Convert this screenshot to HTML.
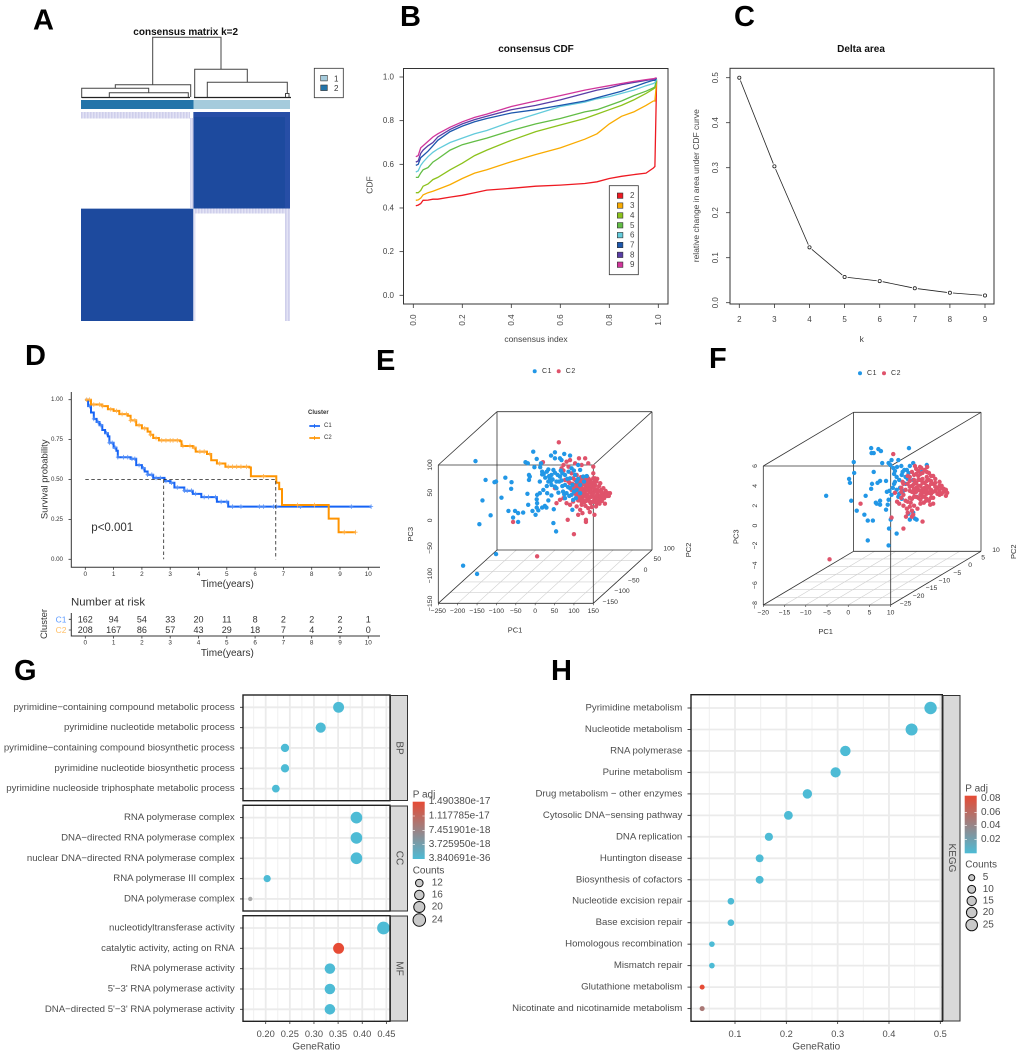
<!DOCTYPE html>
<html lang="en">
<head>
<meta charset="utf-8">
<title>Consensus clustering figure</title>
<style>
html,body{margin:0;padding:0;background:#fff;}
#figure{display:block;width:1020px;height:1055px;font-family:"Liberation Sans",sans-serif;}
#figure text{dominant-baseline:central;}
.letter{font-size:29px;font-weight:bold;fill:#000;dominant-baseline:alphabetic !important;}
.ttl{font-size:10px;font-weight:bold;fill:#111;text-anchor:middle;}
.lab{font-size:8.5px;fill:#444;text-anchor:middle;}
.gg{font-size:10px;fill:#4d4d4d;}
</style>
</head>
<body>
<svg id="figure" width="1020" height="1055" viewBox="0 0 1020 1055">
<defs>
<linearGradient id="padj-grad" x1="0" y1="0" x2="0" y2="1"><stop offset="0" stop-color="#E64B35"/><stop offset="1" stop-color="#4DBBD5"/></linearGradient>
<pattern id="fringe" width="3" height="3" patternUnits="userSpaceOnUse"><rect width="3" height="3" fill="#e2e2f4"/><rect width="1.5" height="3" fill="#cfcfeb"/></pattern>
<clipPath id="clip-g1"><rect x="243" y="695" width="147" height="105.7"/></clipPath>
<clipPath id="clip-g2"><rect x="243" y="805.3" width="147" height="105.7"/></clipPath>
<clipPath id="clip-g3"><rect x="243" y="915.7" width="147" height="105.6"/></clipPath>
<clipPath id="clip-h"><rect x="691" y="694.7" width="251.3" height="326.6"/></clipPath>
</defs>

<text class="letter" x="33" y="29.5">A</text>
<text class="letter" x="400" y="26">B</text>
<text class="letter" x="734" y="26">C</text>
<text class="letter" x="25" y="365">D</text>
<text class="letter" x="376" y="370">E</text>
<text class="letter" x="709" y="368">F</text>
<text class="letter" x="14" y="680">G</text>
<text class="letter" x="551" y="680">H</text>

<!-- Panel A -->
<g id="panel-a">
<text class="ttl" x="185.7" y="32.7">consensus matrix k=2</text>
<path fill="none" stroke="#444" stroke-width="1" d="M152.7 84.7V37.3H221V69.3M194.7 98V69.3H247.3V82.3M207.3 97V82.3H287.3V93.5M115.3 88.3V84.7H190.7V97M81.7 98V88.3H148.7V92.7M109.3 97V92.7H188.3V97M285.5 97V93.5H289V97"/>
<path fill="none" stroke="#222" stroke-width="1.3" d="M81.7 97.5H190M194 97.5H291"/>
<rect x="81" y="100" width="112.5" height="9" fill="#2374a9"/>
<rect x="193.5" y="100" width="96.5" height="9" fill="#a5cbdc"/>
<rect x="314.3" y="68.3" width="29" height="29.4" fill="#fff" stroke="#333" stroke-width="0.8"/>
<rect x="320.7" y="75.3" width="6.6" height="5.6" fill="#a5cbdc" stroke="#333" stroke-width="0.6"/>
<rect x="320.7" y="85" width="6.6" height="5.6" fill="#2374a9" stroke="#333" stroke-width="0.6"/>
<text x="334" y="79" font-size="8" fill="#333">1</text>
<text x="334" y="88.5" font-size="8" fill="#333">2</text>
<g id="heatmap"></g>
</g>

<!-- Panel B -->
<g id="panel-b">
<text class="ttl" x="536" y="49.3">consensus CDF</text>
<rect x="403.5" y="68.5" width="264.5" height="235.5" fill="#fff" stroke="#333" stroke-width="1"/>
<text class="lab" x="536" y="339" font-size="8.5">consensus index</text>
<text class="lab" x="369.7" y="185" transform="rotate(-90 369.7 185)">CDF</text>
<g id="cdf-axes"></g>
<g id="cdf-lines"></g>
<rect x="609.3" y="185.7" width="29" height="89" fill="#fff" stroke="#333" stroke-width="0.8"/>
<g id="cdf-legend"></g>
</g>

<!-- Panel C -->
<g id="panel-c">
<text class="ttl" x="861" y="49.7">Delta area</text>
<rect x="730" y="68.3" width="264" height="235.7" fill="#fff" stroke="#333" stroke-width="1"/>
<text class="lab" x="861.7" y="339">k</text>
<text class="lab" x="696" y="185.7" transform="rotate(-90 696 185.7)">relative change in area under CDF curve</text>
<g id="delta-axes"></g>
<g id="delta-line"></g>
</g>

<!-- Panel D -->
<g id="panel-d">
<path d="M71.3 392V567.3H380" fill="none" stroke="#333" stroke-width="1"/>
<text x="227.3" y="584.7" font-size="10" fill="#333" text-anchor="middle">Time(years)</text>
<text x="45" y="479.3" font-size="9.5" fill="#333" text-anchor="middle" transform="rotate(-90 45 479.3)">Survival probability</text>
<text x="91.3" y="528" font-size="11.5" fill="#333">p&lt;0.001</text>
<g id="surv-axes"></g>
<g id="surv-lines"></g>
<text x="308" y="413" font-size="6" font-weight="bold" fill="#333">Cluster</text>
<line x1="309.3" x2="320" y1="426" y2="426" stroke="#1563F5" stroke-width="1.7"/>
<line x1="309.3" x2="320" y1="438" y2="438" stroke="#FF9400" stroke-width="1.7"/>
<line x1="314.6" x2="314.6" y1="424" y2="428" stroke="#1563F5" stroke-width="0.8"/>
<line x1="314.6" x2="314.6" y1="436" y2="440" stroke="#FF9400" stroke-width="0.8"/>
<text x="324" y="426" font-size="6" fill="#333">C1</text>
<text x="324" y="438" font-size="6" fill="#333">C2</text>
<text x="71" y="602.7" font-size="11.4" fill="#333">Number at risk</text>
<path d="M71.3 613V636H380" fill="none" stroke="#333" stroke-width="1"/>
<path d="M68.8 619.3H71.3M68.8 630H71.3" stroke="#333" stroke-width="0.8"/>
<text x="66.5" y="619.3" font-size="8.5" fill="#5d9bff" text-anchor="end">C1</text>
<text x="66.5" y="630" font-size="8.5" fill="#ffbf66" text-anchor="end">C2</text>
<text x="44.3" y="624" font-size="9.5" fill="#333" text-anchor="middle" transform="rotate(-90 44.3 624)">Cluster</text>
<text x="227.3" y="653.7" font-size="10" fill="#333" text-anchor="middle">Time(years)</text>
<g id="risk-table"></g>
</g>

<!-- Panel E -->
<g id="panel-e">
<circle cx="534.7" cy="371.3" r="2" fill="#2297E6"/>
<text x="542" y="371.3" font-size="7" letter-spacing="0.6" fill="#333">C1</text>
<circle cx="558.7" cy="371.3" r="2" fill="#DF536B"/>
<text x="565.7" y="371.3" font-size="7" letter-spacing="0.6" fill="#333">C2</text>
<text x="515" y="630" font-size="7.5" fill="#333" text-anchor="middle">PC1</text>
<text x="410.3" y="534.3" font-size="7.5" fill="#333" text-anchor="middle" transform="rotate(-90 410.3 534.3)">PC3</text>
<text x="688.3" y="550" font-size="7.5" fill="#333" text-anchor="middle" transform="rotate(-90 688.3 550)">PC2</text>
<g id="cube-e"></g>
<g id="points-e"></g>
</g>

<!-- Panel F -->
<g id="panel-f">
<circle cx="860" cy="373.3" r="2" fill="#2297E6"/>
<text x="867" y="373.3" font-size="7" letter-spacing="0.6" fill="#333">C1</text>
<circle cx="884" cy="373.3" r="2" fill="#DF536B"/>
<text x="891" y="373.3" font-size="7" letter-spacing="0.6" fill="#333">C2</text>
<text x="825.7" y="631.7" font-size="7.5" fill="#333" text-anchor="middle">PC1</text>
<text x="736" y="536.7" font-size="7.5" fill="#333" text-anchor="middle" transform="rotate(-90 736 536.7)">PC3</text>
<text x="1013.3" y="551.7" font-size="7.5" fill="#333" text-anchor="middle" transform="rotate(-90 1013.3 551.7)">PC2</text>
<g id="cube-f"></g>
<g id="points-f"></g>
</g>

<!-- Panel G -->
<g id="panel-g">
<g id="g-plot"></g>
<rect x="390.5" y="695.5" width="17" height="105" fill="#d9d9d9" stroke="#333" stroke-width="1"/>
<rect x="390.5" y="806" width="17" height="105" fill="#d9d9d9" stroke="#333" stroke-width="1"/>
<rect x="390.5" y="916" width="17" height="105" fill="#d9d9d9" stroke="#333" stroke-width="1"/>
<text x="399" y="748" class="gg" text-anchor="middle" transform="rotate(90 399 748)">BP</text>
<text x="399" y="858" class="gg" text-anchor="middle" transform="rotate(90 399 858)">CC</text>
<text x="399" y="968.5" class="gg" text-anchor="middle" transform="rotate(90 399 968.5)">MF</text>
<text x="316.3" y="1047" class="gg" text-anchor="middle">GeneRatio</text>
<text x="412.7" y="795" class="gg">P adj</text>
<rect x="412.7" y="801.7" width="12" height="57.3" fill="url(#padj-grad)"/>
<path d="M412.7 816H415M422.4 816H424.7M412.7 830.3H415M422.4 830.3H424.7M412.7 844.3H415M422.4 844.3H424.7" stroke="#fff" stroke-width="0.6"/>
<text x="428.7" y="801.7" class="gg">1.490380e-17</text>
<text x="428.7" y="816" class="gg">1.117785e-17</text>
<text x="428.7" y="830.3" class="gg">7.451901e-18</text>
<text x="428.7" y="844.3" class="gg">3.725950e-18</text>
<text x="428.7" y="858.7" class="gg">3.840691e-36</text>
<text x="412.7" y="871" class="gg">Counts</text>
<g id="g-size-legend"></g>
</g>

<!-- Panel H -->
<g id="panel-h">
<g id="h-plot"></g>
<rect x="943" y="695.5" width="17" height="325.5" fill="#d9d9d9" stroke="#333" stroke-width="1"/>
<text x="951.5" y="858" class="gg" text-anchor="middle" transform="rotate(90 951.5 858)">KEGG</text>
<text x="816.3" y="1047" class="gg" text-anchor="middle">GeneRatio</text>
<text x="965.3" y="789" class="gg">P adj</text>
<rect x="964.7" y="795.7" width="12" height="57.6" fill="url(#padj-grad)"/>
<path d="M964.7 812.3H967M974.4 812.3H976.7M964.7 825.7H967M974.4 825.7H976.7M964.7 839.7H967M974.4 839.7H976.7" stroke="#fff" stroke-width="0.6"/>
<text x="981" y="798.3" class="gg">0.08</text>
<text x="981" y="812.3" class="gg">0.06</text>
<text x="981" y="825.7" class="gg">0.04</text>
<text x="981" y="839.7" class="gg">0.02</text>
<text x="965.3" y="865" class="gg">Counts</text>
<g id="h-size-legend"></g>
</g>
</svg>

<script>
/* ---------- Panel A data ---------- */
const clusterSizes = [200, 172];
const consensusValues = [[0, 1], [1, 0]];

/* ---------- Panel B data ---------- */
const cdfIndex = [0.01,0.02,0.03,0.04,0.06,0.08,0.1,0.15,0.2,0.25,0.3,0.4,0.5,0.6,0.7,0.75,0.8,0.85,0.9,0.95,0.98,0.986,0.993];
const cdfK = ['2','3','4','5','6','7','8','9'];
const cdfK2 = [.41,.413,.42,.435,.436,.44,.44,.45,.458,.47,.482,.49,.5,.505,.512,.52,.535,.545,.553,.56,.583,.59,.985];
const cdfK3 = [.435,.437,.445,.46,.47,.477,.485,.507,.535,.56,.575,.612,.645,.675,.715,.74,.785,.82,.84,.87,.89,.89,.98];
const cdfK4 = [.47,.47,.48,.5,.51,.53,.54,.575,.605,.64,.665,.71,.75,.78,.81,.83,.85,.87,.895,.925,.945,.95,.985];
const cdfK5 = [.54,.54,.56,.575,.585,.61,.625,.665,.69,.705,.72,.755,.785,.81,.84,.85,.87,.89,.915,.935,.95,.955,.99];
const cdfK6 = [.565,.57,.595,.61,.635,.655,.67,.7,.72,.74,.755,.795,.83,.865,.885,.9,.91,.925,.94,.96,.97,.975,.99];
const cdfK7 = [.595,.6,.63,.64,.66,.685,.71,.75,.775,.795,.81,.835,.85,.87,.89,.905,.92,.935,.955,.975,.985,.985,.995];
const cdfK8 = [.61,.615,.65,.665,.685,.7,.725,.76,.785,.805,.82,.85,.87,.895,.925,.94,.95,.965,.975,.985,.99,.992,.996];
const cdfK9 = [.635,.64,.675,.685,.705,.725,.74,.77,.795,.815,.83,.865,.89,.915,.94,.95,.96,.97,.98,.988,.992,.994,.997];
const cdfXTicks = ['0.0','0.2','0.4','0.6','0.8','1.0'];
const cdfYTicks = ['0.0','0.2','0.4','0.6','0.8','1.0'];

/* ---------- Panel C data ---------- */
const deltaK = [2,3,4,5,6,7,8,9];
const deltaValues = [.5,.303,.123,.057,.048,.032,.022,.016];
const deltaYTicks = ['0.0','0.1','0.2','0.3','0.4','0.5'];

/* ---------- Panel D data ---------- */
const c1Times = [0,.1,.2,.3,.4,.5,.6,.7,.8,.85,1,1.1,1.15,1.6,1.8,2,2.1,2.2,2.4,2.8,3,3.15,3.5,3.8,4.1,4.65,5.05,10.1];
const c1Surv = [1,.96,.92,.88,.86,.84,.81,.79,.77,.73,.70,.68,.64,.63,.59,.57,.55,.53,.51,.49,.48,.45,.43,.41,.39,.36,.33,.33];
const c2Times = [0,.2,.6,.8,1,1.2,1.5,1.6,1.8,2,2.2,2.3,2.4,2.6,3.35,3.4,3.8,3.9,4.3,4.45,4.65,4.95,5.8,5.85,6.7,6.75,6.85,6.95,8.6,8.95,9.55];
const c2Surv = [1,.97,.96,.94,.93,.91,.9,.87,.84,.82,.80,.78,.76,.745,.74,.71,.70,.675,.66,.62,.60,.58,.575,.52,.52,.48,.44,.34,.255,.17,.17];
const c1Censor = [.15,.3,.45,.55,.75,.85,.95,1.05,1.15,1.35,1.5,1.65,1.75,1.9,2.05,2.2,2.35,2.5,2.65,2.85,3.05,3.25,3.5,3.6,3.75,3.9,4.2,4.35,4.6,4.8,5,5.2,5.5,6.15,6.3,6.65,6.75,7.6,9.4,10.1];
const c2Censor = [.05,.15,.3,.5,.6,.9,1.1,1.3,1.45,1.6,1.75,1.9,2.1,2.3,2.5,2.7,2.85,3,3.1,3.25,3.45,3.7,3.85,4.05,4.2,4.4,4.75,5.05,5.2,5.35,5.5,5.7,6.3,7.5,8.1,9.15,9.55];
const medianC1 = 2.77;
const medianC2 = 6.73;
const survYTicks = ['0.00','0.25','0.50','0.75','1.00'];
const timeTicks = [0,1,2,3,4,5,6,7,8,9,10];
const riskC1 = [162,94,54,33,20,11,8,2,2,2,1];
const riskC2 = [208,167,86,57,43,29,18,7,4,2,0];

/* ---------- Panel E data: [PC1, PC3] read against the front face of the cube ---------- */
const eC1 = [[-154,107],[-128,73],[-105,69],[-101,70],[-77,77],[-61,69],[-62,57],[-87,41],[-136,36],[-115,9],[-144,-7],[-69,17],[-52,17],[-44,13],[-31,14],[-57,5],[-44,-3],[-101,-61],[-186,-82],[-150,-97],[-20,48],[-18,28],[5,31],[4,23],[-7,17],[8,18],[1,10],[18,23],[25,26],[29,23],[48,20],[47,-5],[54,-20],[-5,124],[4,111],[-25,105],[-19,103],[-2,96],[15,103],[13,96],[18,88],[18,83],[-16,82],[-14,79],[-16,73],[12,70],[26,77],[41,117],[51,123],[51,112],[64,112],[68,109],[75,120],[90,117],[34,92],[47,91],[42,82],[38,76],[51,86],[34,70],[42,64],[51,61],[21,55],[12,49],[5,46],[4,38],[31,49],[42,45],[34,36],[64,79],[62,70],[55,58],[77,64],[90,76],[103,82],[77,82],[94,94],[111,100],[81,49],[94,46],[107,55],[116,49],[98,37],[77,40],[90,58],[124,79],[133,80],[116,91],[107,70],[116,64],[126,70],[96,19],[70,62],[72,52],[85,60],[88,44],[96,64],[100,52],[68,72],[83,75],[60,50],[75,47],[105,40],[111,75],[100,90],[86,88],[66,90],[58,82],[45,74],[30,62],[36,80],[22,84],[30,88],[40,70],[55,70],[70,85]];
const eC2 = [[61,141],[20,105],[-57,-3],[84,1],[100,-25],[5,-65],[131,1],[131,-3],[153,10],[122,13],[111,10],[90,109],[81,106],[113,112],[129,112],[103,103],[73,100],[86,97],[137,103],[120,100],[150,97],[73,90],[94,85],[150,85],[154,76],[110,72],[118,78],[126,74],[134,79],[142,72],[150,76],[158,70],[108,64],[116,60],[124,67],[131,62],[139,66],[147,60],[155,63],[105,55],[113,52],[121,57],[129,53],[137,58],[145,51],[153,55],[161,49],[107,44],[115,47],[123,42],[131,47],[139,41],[147,45],[155,40],[163,43],[111,36],[119,38],[127,33],[135,37],[143,31],[151,35],[159,30],[120,70],[135,70],[128,57],[142,57],[115,68],[150,66],[125,48],[140,50],[133,42],[165,62],[170,55],[176,48],[182,53],[188,49],[193,49],[186,44],[178,40],[172,35],[166,30],[180,30],[170,45],[160,56],[176,58],[168,67],[160,75],[64,37],[55,31],[81,31],[90,28],[107,25],[120,28],[137,22],[98,34],[116,19],[141,15],[73,40],[51,58],[68,94],[86,70],[90,67],[77,73],[103,64],[98,76],[107,82],[94,55],[114,75],[122,71],[130,76],[138,75],[146,68],[154,73],[112,68],[120,63],[128,65],[135,64],[143,63],[151,58],[109,58],[117,55],[125,52],[133,55],[141,53],[149,48],[157,52],[111,48],[119,44],[127,45],[135,44],[143,42],[151,42],[159,45],[115,40],[123,37],[131,35],[139,35],[147,33],[155,33],[104,48],[100,58],[96,66],[103,73],[164,53],[172,50],[168,40],[175,44],[182,46],[190,44],[163,36],[157,25],[146,24],[130,26],[120,33]];
const ePC1Ticks = [-250,-200,-150,-100,-50,0,50,100,150];
const ePC2Ticks = [-150,-100,-50,0,50,100];
const ePC3Ticks = [-150,-100,-50,0,50,100];

/* ---------- Panel F data: [PC1, PC3] read against the front face of the cube ---------- */
const fC1 = [[-5.2,3],[5.4,7.8],[5.5,7.3],[6,7.3],[7.1,7.7],[7.7,7.5],[14.3,7.8],[1.3,6.4],[1.4,5.3],[.2,4.7],[.4,4.3],[6,5.4],[8,6.3],[9.5,6.3],[10.2,6.6],[9.9,6.1],[10.6,5.8],[11.8,6.6],[4.1,3],[.7,2.5],[2,1.5],[3.8,1.1],[4.6,.5],[5.8,.5],[6.5,2.3],[7.5,2.5],[7.5,2.1],[6.7,2.2],[8.9,1.6],[9.3,2.1],[9.5,2.6],[9.1,3.4],[5.4,3.7],[5.6,4.2],[6.9,4.3],[7.5,4.5],[8.9,4.5],[10.8,4.2],[10.2,3.1],[11.4,3.6],[12.2,3.8],[13,4.3],[11.4,4.9],[12.6,5.1],[13.8,5.6],[15.3,6.3],[18.5,6.1],[17.3,5.4],[14.2,5.3],[15.3,4.6],[16.1,3.6],[16.1,2.9],[14.2,1.2],[15.3,1.3],[15.7,.7],[14.5,.6],[16.1,.6],[10,.6],[9.6,-.3],[11.4,-.8],[4.6,-1.5],[9.5,-2],[11,5.5],[12,4.6],[13.2,5.6],[14,4.7],[12,3.2],[13,3.5],[13.5,4.9],[11.5,5.9],[12.5,6],[14.5,6],[11,4.4],[10.5,3.8],[9.7,3.5],[11.8,2.9],[12.8,5.4],[10.8,5.2],[13.5,4.2],[12.6,2.7]];
const fC2 = [[-4.4,-3.4],[2.9,2.2],[10.6,7.2],[10.2,.8],[13,-.3],[17.5,.4],[15,5.4],[16,5.7],[17,5.2],[18,5.6],[19,5.3],[20,5],[14.5,4.9],[15.5,4.6],[16.5,5],[17.5,4.7],[18.5,4.9],[19.5,4.5],[20.5,4.7],[21.5,4.4],[14,4.2],[15,4],[16,4.3],[17,4],[18,4.3],[19,3.9],[20,4.2],[21,3.8],[22,4],[23,3.6],[14.5,3.5],[15.5,3.3],[16.5,3.6],[17.5,3.3],[18.5,3.6],[19.5,3.2],[20.5,3.5],[21.5,3.1],[22.5,3.4],[23,3],[16,2.9],[17,2.6],[18,2.9],[19,2.5],[20,2.8],[15,2.7],[14,2.4],[13,3.1],[12.5,2.8],[12,2.2],[11.5,2.4],[13,2],[14.5,1.9],[15.5,2],[16.3,1.7],[17.8,2.3],[20,2.2],[19.3,2.1],[15,1.5],[14,1.3],[13.6,.9],[15.3,1.1],[16.9,5.9],[18.6,5.9],[15.7,6],[14,5],[13,4.2],[12.5,3.8],[11,3.3],[12.5,3.4],[17,4.6],[18,3.8],[16,3.8],[19,4.6],[17,3.1],[18.4,3.2],[15.5,5.1],[16.5,5.5],[17.5,5.3],[18.5,5.4],[19.5,5],[14.5,4.5],[15.5,4.2],[16.5,4.6],[17.5,4.3],[18.5,4.5],[19.5,4.2],[20.5,4.3],[21.5,4],[14.5,3.9],[15.5,3.7],[16.5,4],[17.5,3.7],[18.5,4],[19.5,3.6],[20.5,3.9],[21.5,3.5],[22.5,3.7],[15,3.4],[16,3.4],[17,3.5],[18,3.4],[19,3.3],[20,3.4],[21,3.2],[22,3.2],[15.5,2.9],[16.5,2.8],[17.5,2.9],[18.5,2.7],[19.5,2.8],[14.5,2.8],[13.5,2.5],[13.5,3.6],[12.8,4.4],[17,2.2],[18.3,2.5],[14.7,2.3],[13.8,1.7],[15,.9],[22,3.8],[23.3,3.3],[16,5.2],[17.2,5.8]];
const fPC1Ticks = [-20,-15,-10,-5,0,5,10];
const fPC2Ticks = [-25,-20,-15,-10,-5,0,5,10];
const fPC3Ticks = [-8,-6,-4,-2,0,2,4,6];

/* ---------- Panel G data ---------- */
const goTerms = ['pyrimidine\u2212containing compound metabolic process','pyrimidine nucleotide metabolic process','pyrimidine\u2212containing compound biosynthetic process','pyrimidine nucleotide biosynthetic process','pyrimidine nucleoside triphosphate metabolic process','RNA polymerase complex','DNA\u2212directed RNA polymerase complex','nuclear DNA\u2212directed RNA polymerase complex','RNA polymerase III complex','DNA polymerase complex','nucleotidyltransferase activity','catalytic activity, acting on RNA','RNA polymerase activity',"5'\u22123' RNA polymerase activity","DNA\u2212directed 5'\u22123' RNA polymerase activity"];
const goRatio = [.351,.314,.24,.24,.221,.388,.388,.388,.203,.168,.444,.351,.333,.333,.333];
const goCounts = [19,17,13,13,12,21,21,21,11,7,24,19,18,18,18];
const goPadj = [0,0,0,0,0,0,0,0,0,.55,0,1,0,0,0];
const goXTicks = ['0.20','0.25','0.30','0.35','0.40','0.45'];
const goLegendCounts = [12,16,20,24];

/* ---------- Panel H data ---------- */
const keggTerms = ['Pyrimidine metabolism','Nucleotide metabolism','RNA polymerase','Purine metabolism','Drug metabolism \u2212 other enzymes','Cytosolic DNA\u2212sensing pathway','DNA replication','Huntington disease','Biosynthesis of cofactors','Nucleotide excision repair','Base excision repair','Homologous recombination','Mismatch repair','Glutathione metabolism','Nicotinate and nicotinamide metabolism'];
const keggRatio = [.481,.444,.315,.296,.241,.204,.166,.148,.148,.092,.092,.055,.055,.036,.036];
const keggCounts = [26,24,17,16,13,11,9,8,8,5,5,3,3,2,2];
const keggPadj = [0,0,0,0,0,0,0,0,0,0,0,0,0,1,.6];
const keggXTicks = ['0.1','0.2','0.3','0.4','0.5'];
const keggLegendCounts = [5,10,15,20,25];

/* ---------- helpers ---------- */
const NS = document.getElementById('figure').namespaceURI;
function node(tag, attrs, parent){
  const e = document.createElementNS(NS, tag);
  for (const k in attrs) e.setAttribute(k, attrs[k]);
  parent.appendChild(e);
  return e;
}
function $(id){ return document.getElementById(id); }
function label(parent, x, y, s, size, anchor, fill, rot){
  const a = {x:x, y:y, 'font-size':size, 'text-anchor':anchor, fill:fill};
  if (rot) a.transform = 'rotate(' + rot + ' ' + x + ' ' + y + ')';
  const e = node('text', a, parent);
  e.textContent = s;
  return e;
}
function lerpColor(t){
  const a=[77,187,213], b=[230,75,53];
  return 'rgb(' + a.map(function(v,i){return Math.round(v+(b[i]-v)*t);}).join(',') + ')';
}

/* ---------- Panel A ---------- */
(function(){
  const g = $('heatmap');
  const total = clusterSizes[0] + clusterSizes[1];
  const hx = function(n){ return 81 + n/total*209; };
  const rowSizes = [clusterSizes[1], clusterSizes[0]];
  const hy = function(n){ return 112 + n/total*209; };
  let yy = 0;
  consensusValues.forEach(function(row, r){
    let xx = 0;
    row.forEach(function(v, c){
      const cell = node('rect', {x:hx(xx), y:hy(yy), width:hx(xx+clusterSizes[c])-hx(xx), height:hy(yy+rowSizes[r])-hy(yy), fill: v>0.5 ? '#1d4a9e' : '#ffffff'}, g);
      
      
      xx += clusterSizes[c];
    });
    yy += rowSizes[r];
  });
  const fr = [[81,112,109,6.5],[190,118,3.5,90],[194,208.5,96,5],[285,213,5,108],[193.5,209,1.8,112]];
  fr.forEach(function(f){
    const s = node('rect', {x:f[0], y:f[1], width:f[2], height:f[3], fill:'url(#fringe)'}, g);
    
    
  });
  const edge = node('path', {d:'M193.5 114.5H290M287.5 112V208', stroke:'#274ea6', 'stroke-width':5, fill:'none'}, g);
  
  
})();

/* ---------- Panel B ---------- */
(function(){
  const sx = function(v){ return 413.3 + v*245; };
  const sy = function(v){ return 295.3 - v*218.3; };
  const ax = $('cdf-axes');
  cdfXTicks.forEach(function(t){
    const x = sx(+t);
    const tick = node('line', {x1:x, x2:x, y1:304, y2:308, stroke:'#333', 'stroke-width':0.8}, ax);
    
    
    const l = label(ax, x, 320, t, 8, 'middle', '#444', -90);
    
    
  });
  cdfYTicks.forEach(function(t){
    const y = sy(+t);
    const tick = node('line', {x1:399.5, x2:403.5, y1:y, y2:y, stroke:'#333', 'stroke-width':0.8}, ax);
    
    
    const l = label(ax, 394, y, t, 8, 'end', '#444');
    
    
  });
  const series = [cdfK2,cdfK3,cdfK4,cdfK5,cdfK6,cdfK7,cdfK8,cdfK9];
  const colors = ['#ee1a22','#f9ab00','#8cc21c','#62bd45','#63cbdb','#1c57ad','#583da6','#d0359b'];
  const lg = $('cdf-lines');
  series.forEach(function(vals, i){
    const d = vals.map(function(v,j){ return (j?'L':'M') + sx(cdfIndex[j]).toFixed(1) + ' ' + sy(v).toFixed(1); }).join('');
    const p = node('path', {d:d, fill:'none', stroke:colors[i], 'stroke-width':1.3}, lg);
    
    
  });
  const leg = $('cdf-legend');
  cdfK.forEach(function(k, i){
    const y = 195.7 + i*9.86;
    const sw = node('rect', {x:617.3, y:y-2.7, width:5.6, height:5.4, fill:colors[i], stroke:'#333', 'stroke-width':0.6}, leg);
    
    
    const l = label(leg, 630, y, k, 8, 'start', '#444');
    
    
  });
})();

/* ---------- Panel C ---------- */
(function(){
  const sx = function(k){ return 739.3 + (k-2)*35.1; };
  const sy = function(v){ return 302.7 - v*450; };
  const ax = $('delta-axes');
  deltaK.forEach(function(k){
    const x = sx(k);
    const tick = node('line', {x1:x, x2:x, y1:304, y2:308, stroke:'#333', 'stroke-width':0.8}, ax);
    
    
    const l = label(ax, x, 319.3, String(k), 8, 'middle', '#444');
    
    
  });
  deltaYTicks.forEach(function(t){
    const y = sy(+t);
    const tick = node('line', {x1:726, x2:730, y1:y, y2:y, stroke:'#333', 'stroke-width':0.8}, ax);
    
    
    const l = label(ax, 715.7, y, t, 8, 'middle', '#444', -90);
    
    
  });
  const g = $('delta-line');
  deltaValues.forEach(function(v, i){
    const x = sx(deltaK[i]), y = sy(v);
    if (i < deltaValues.length-1){
      const x2 = sx(deltaK[i+1]), y2 = sy(deltaValues[i+1]);
      const len = Math.hypot(x2-x, y2-y), gap = 3;
      const ux = (x2-x)/len, uy = (y2-y)/len;
      const seg = node('line', {x1:x+ux*gap, y1:y+uy*gap, x2:x2-ux*gap, y2:y2-uy*gap, stroke:'#222', 'stroke-width':0.8}, g);
      
      
    }
    const c = node('circle', {cx:x, cy:y, r:1.6, fill:'none', stroke:'#222', 'stroke-width':0.8}, g);
    
    
  });
})();

/* ---------- Panel D ---------- */
(function(){
  const sx = function(t){ return 85.3 + t*28.3; };
  const sy = function(v){ return 559.3 - v*159.6; };
  const ax = $('surv-axes');
  survYTicks.forEach(function(t){
    const y = sy(+t);
    const tick = node('line', {x1:68.5, x2:71.3, y1:y, y2:y, stroke:'#333', 'stroke-width':0.8}, ax);
    
    
    const l = label(ax, 63, y, t, 6.2, 'end', '#333');
    
    
  });
  timeTicks.forEach(function(t){
    const x = sx(t);
    const tick = node('line', {x1:x, x2:x, y1:567.3, y2:569.8, stroke:'#333', 'stroke-width':0.8}, ax);
    
    
    const l = label(ax, x, 574.5, String(t), 6.4, 'middle', '#333');
    
    
  });
  const g = $('surv-lines');
  function stepPath(ts, ss){
    let d = 'M' + sx(ts[0]) + ' ' + sy(ss[0]);
    for (let i=1;i<ts.length;i++){
      d += 'H' + sx(ts[i]).toFixed(1) + 'V' + sy(ss[i]).toFixed(1);
    }
    return d;
  }
  function survAt(ts, ss, t){
    let v = ss[0];
    for (let i=0;i<ts.length;i++){ if (ts[i] <= t) v = ss[i]; }
    return v;
  }
  const p1 = node('path', {d:stepPath(c1Times,c1Surv), fill:'none', stroke:'#1563F5', 'stroke-width':2}, g);
  
  
  c1Censor.forEach(function(t){
    const x = sx(t), y = sy(survAt(c1Times,c1Surv,t));
    const m = node('path', {d:'M'+x+' '+(y-2.3)+'V'+(y+2.3)+'M'+(x-2)+' '+y+'H'+(x+2), stroke:'#5a93f7', 'stroke-width':0.8, fill:'none'}, g);
    
    
  });
  const p2 = node('path', {d:stepPath(c2Times,c2Surv), fill:'none', stroke:'#FF9400', 'stroke-width':2}, g);
  
  
  c2Censor.forEach(function(t){
    const x = sx(t), y = sy(survAt(c2Times,c2Surv,t));
    const m = node('path', {d:'M'+x+' '+(y-2.3)+'V'+(y+2.3)+'M'+(x-2)+' '+y+'H'+(x+2), stroke:'#ffb14d', 'stroke-width':0.8, fill:'none'}, g);
    
    
  });
  const dash = node('path', {d:'M'+sx(0)+' '+sy(.5)+'H'+sx(medianC2)+'V'+sy(0)+'M'+sx(medianC1)+' '+sy(.5)+'V'+sy(0), fill:'none', stroke:'#222', 'stroke-width':0.8, 'stroke-dasharray':'3.5 2.5'}, g);
  
  
  const rt = $('risk-table');
  timeTicks.forEach(function(t, i){
    const x = sx(t);
    const a = label(rt, x, 619.3, String(riskC1[i]), 9, 'middle', '#333');
    
    
    const b = label(rt, x, 630, String(riskC2[i]), 9, 'middle', '#333');
    
    
    const tick = node('line', {x1:x, x2:x, y1:636, y2:638.5, stroke:'#333', 'stroke-width':0.8}, rt);
    
    
    const l = label(rt, x, 643, String(t), 6.4, 'middle', '#333');
    
    
  });
})();

/* ---------- Panels E and F ---------- */
function drawCube(cfg, g){
  const P = cfg.project;
  const x0=cfg.x[0], x1=cfg.x[1], y0=cfg.y[0], y1=cfg.y[1], z0=cfg.z[0], z1=cfg.z[1];
  function seg(a, b, stroke, w){
    const l = node('line', {x1:a[0], y1:a[1], x2:b[0], y2:b[1], stroke:stroke, 'stroke-width':w}, g);
    return l;
  }
  cfg.xt.forEach(function(t){
    const l = seg(P(t,y0,z0), P(t,y1,z0), '#cfcfcf', 0.6);
    
    
    const p = P(t,y0,z0);
    const tk = seg([p[0],p[1]], [p[0],p[1]+2], '#333', 0.6);
    
    
    const lb = label(g, p[0], p[1]+8, String(t).replace('-', '\u2212'), 6.8, 'middle', '#333');
    
    
  });
  cfg.yt.forEach(function(t){
    const l = seg(P(x0,t,z0), P(x1,t,z0), '#cfcfcf', 0.6);
    
    
    const p = P(x1,t,z0);
    const lb = label(g, p[0]+cfg.yLabelDx, p[1]-1, String(t).replace('-', '\u2212'), 6.8, 'middle', '#333');
    
    
  });
  cfg.zt.forEach(function(t){
    const p = P(x0,y0,t);
    const lb = label(g, p[0]-cfg.zLabelDx, p[1], String(t).replace('-', '\u2212'), 6.8, 'middle', '#333', -90);
    
    
  });
  const edges = [
    [[x0,y1,z0],[x1,y1,z0]],[[x0,y1,z1],[x1,y1,z1]],[[x0,y1,z0],[x0,y1,z1]],[[x1,y1,z0],[x1,y1,z1]],
    [[x0,y0,z0],[x1,y0,z0]],[[x0,y0,z1],[x1,y0,z1]],[[x0,y0,z0],[x0,y0,z1]],[[x1,y0,z0],[x1,y0,z1]],
    [[x0,y0,z0],[x0,y1,z0]],[[x1,y0,z0],[x1,y1,z0]],[[x0,y0,z1],[x0,y1,z1]],[[x1,y0,z1],[x1,y1,z1]]
  ];
  edges.forEach(function(e){
    const l = seg(P(e[0][0],e[0][1],e[0][2]), P(e[1][0],e[1][1],e[1][2]), '#333', 0.8);
    
    
  });
}
const cfgE = {
  x:[-250,150], y:[-150,100], z:[-150,100], xt:ePC1Ticks, yt:ePC2Ticks, zt:ePC3Ticks, yLabelDx:17, zLabelDx:8,
  project:function(a,b,c){
    return [438.3 + (a+250)/400*155 + (b+150)/250*58.7, 603.3 - (c+150)/250*138.3 - (b+150)/250*53.3];
  }
};
const cfgF = {
  x:[-20,10], y:[-25,10], z:[-8,6], xt:fPC1Ticks, yt:fPC2Ticks, zt:fPC3Ticks, yLabelDx:15, zLabelDx:8,
  project:function(a,b,c){
    return [763.3 + (a+20)/30*127.4 + (b+25)/35*90.3, 605 - (c+8)/14*139 - (b+25)/35*53.7];
  }
};
drawCube(cfgE, $('cube-e'));
drawCube(cfgF, $('cube-f'));
(function(){
  const ge = $('points-e');
  eC2.forEach(function(d){
    const p = cfgE.project(d[0], -150, d[1]);
    const c = node('circle', {cx:p[0], cy:p[1], r:2.2, fill:'#DF536B'}, ge);
    
    
  });
  eC1.forEach(function(d){
    const p = cfgE.project(d[0], -150, d[1]);
    const c = node('circle', {cx:p[0], cy:p[1], r:2.2, fill:'#2297E6'}, ge);
    
    
  });
  const gf = $('points-f');
  fC1.forEach(function(d){
    const p = cfgF.project(d[0], -25, d[1]);
    const c = node('circle', {cx:p[0], cy:p[1], r:2.2, fill:'#2297E6'}, gf);
    
    
  });
  fC2.forEach(function(d){
    const p = cfgF.project(d[0], -25, d[1]);
    const c = node('circle', {cx:p[0], cy:p[1], r:2.2, fill:'#DF536B'}, gf);
    
    
  });
})();

/* ---------- Panel G ---------- */
(function(){
  const g = $('g-plot');
  const sx = function(v){ return 265.7 + (v-.2)*482.7; };
  const rr = function(c){ return Math.sqrt(2.1*c - 10); };
  const facets = [[695,800.7,'clip-g1'],[805.3,911,'clip-g2'],[915.7,1021.3,'clip-g3']];
  facets.forEach(function(f, fi){
    const bg = node('rect', {x:243, y:f[0], width:147, height:f[1]-f[0], fill:'#fff'}, g);
    
    
    const clip = node('g', {'clip-path':'url(#'+f[2]+')'}, g);
    
    
    goXTicks.forEach(function(t){
      const v = +t;
      const minor = node('line', {x1:sx(v-.025), x2:sx(v-.025), y1:f[0], y2:f[1], stroke:'#f0f0f0', 'stroke-width':1}, clip);
      
      
      const major = node('line', {x1:sx(v), x2:sx(v), y1:f[0], y2:f[1], stroke:'#ebebeb', 'stroke-width':1.8}, clip);
      
      
    });
    for (let i=0;i<5;i++){
      const idx = fi*5+i;
      const y = f[0] + 12.3 + i*20.33;
      const h = node('line', {x1:243, x2:390, y1:y, y2:y, stroke:'#ebebeb', 'stroke-width':1.8}, clip);
      
      
      const dot = node('circle', {cx:sx(goRatio[idx]), cy:y, r:rr(goCounts[idx]), fill:goPadj[idx]===.55?'#a9a9a9':lerpColor(goPadj[idx])}, clip);
      
      
      const tk = node('line', {x1:240, x2:243, y1:y, y2:y, stroke:'#333', 'stroke-width':0.9}, g);
      
      
      const lb = label(g, 234.7, y, goTerms[idx], 9.65, 'end', '#4d4d4d');
      
      
    }
    const fr = node('rect', {x:243, y:f[0], width:147, height:f[1]-f[0], fill:'none', stroke:'#222', 'stroke-width':1.4}, g);
    
    
  });
  goXTicks.forEach(function(t){
    const x = sx(+t);
    const tk = node('line', {x1:x, x2:x, y1:1021.3, y2:1024, stroke:'#333', 'stroke-width':0.8}, g);
    
    
    const lb = label(g, x, 1034, t, 9.3, 'middle', '#4d4d4d');
    
    
  });
  const leg = $('g-size-legend');
  goLegendCounts.forEach(function(c, i){
    const y = 883 + i*12 + (i===3?1:0);
    const s = node('circle', {cx:419.3, cy:y, r:rr(c)-.1, fill:'#c9c9c9', stroke:'#111', 'stroke-width':1}, leg);
    
    
    const l = label(leg, 431.7, y, String(c), 10, 'start', '#4d4d4d');
    
    
  });
})();

/* ---------- Panel H ---------- */
(function(){
  const g = $('h-plot');
  const sx = function(v){ return 735 + (v-.1)*513.3; };
  const rr = function(c){ return 1.1 + 1*Math.sqrt(c); };
  const sy = function(i){ return 708 + i*21.47; };
  const bg = node('rect', {x:691, y:694.7, width:251.3, height:326.6, fill:'#fff'}, g);
  
  
  const clip = node('g', {'clip-path':'url(#clip-h)'}, g);
  
  
  keggXTicks.forEach(function(t){
    const v = +t;
    const minor = node('line', {x1:sx(v-.05), x2:sx(v-.05), y1:694.7, y2:1021.3, stroke:'#f0f0f0', 'stroke-width':1}, clip);
    
    
    const major = node('line', {x1:sx(v), x2:sx(v), y1:694.7, y2:1021.3, stroke:'#ebebeb', 'stroke-width':1.8}, clip);
    
    
    const tk = node('line', {x1:sx(v), x2:sx(v), y1:1021.3, y2:1024, stroke:'#333', 'stroke-width':0.8}, g);
    
    
    const lb = label(g, sx(v), 1034, t, 9.3, 'middle', '#4d4d4d');
    
    
  });
  keggTerms.forEach(function(term, i){
    const y = sy(i);
    const h = node('line', {x1:691, x2:942, y1:y, y2:y, stroke:'#ebebeb', 'stroke-width':1.8}, clip);
    
    
    const dot = node('circle', {cx:sx(keggRatio[i]), cy:y, r:rr(keggCounts[i]), fill:lerpColor(keggPadj[i])}, clip);
    
    
    const tk = node('line', {x1:687.5, x2:691, y1:y, y2:y, stroke:'#333', 'stroke-width':0.9}, g);
    
    
    const lb = label(g, 682.3, y, term, 9.65, 'end', '#4d4d4d');
    
    
  });
  const fr = node('rect', {x:691, y:694.7, width:251.3, height:326.6, fill:'none', stroke:'#222', 'stroke-width':1.4}, g);
  
  
  const leg = $('h-size-legend');
  keggLegendCounts.forEach(function(c, i){
    const y = 877.7 + i*11.6 + (i===4?0.9:0);
    const s = node('circle', {cx:971.7, cy:y, r:rr(c)-.3, fill:'#c9c9c9', stroke:'#111', 'stroke-width':1}, leg);
    
    
    const l = label(leg, 982.7, y, String(c), 10, 'start', '#4d4d4d');
    
    
  });
})();
</script>
</body>
</html>
